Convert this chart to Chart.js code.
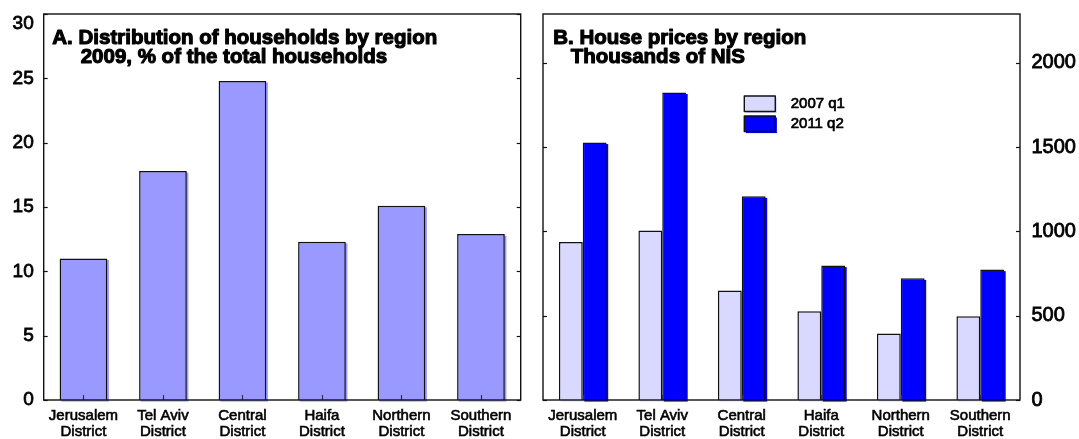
<!DOCTYPE html>
<html>
<head>
<meta charset="utf-8">
<script src="https://cdn.jsdelivr.net/npm/chart.js@4.4.1/dist/chart.umd.min.js"></script>
<style>
  html, body { margin: 0; padding: 0; background: #fff; width: 1079px; height: 439px; overflow: hidden; }
  canvas { position: absolute; top: 0; }
  #chartA { left: 0; }
  #chartB { left: 530px; }
</style>
</head>
<body>
<canvas id="chartA" width="540" height="439"></canvas>
<canvas id="chartB" width="549" height="439"></canvas>
<script>
// Regions (two-line category labels)
const regions = [
  ['Jerusalem', 'District'],
  ['Tel Aviv', 'District'],
  ['Central', 'District'],
  ['Haifa', 'District'],
  ['Northern', 'District'],
  ['Southern', 'District']
];
// Panel A: share of households, 2009 (%)
const householdShare = [11.0, 17.8, 24.8, 12.3, 15.1, 12.9];
// Panel B: average house prices, thousands of NIS
const prices2007q1 = [938, 1005, 649, 526, 395, 497];
const prices2011q2 = [1528, 1825, 1209, 798, 722, 774];
const seriesLabels = ['2007 q1', '2011 q2'];
// Axis ticks
const shareTicks = [0, 5, 10, 15, 20, 25, 30];
const priceTicks = [0, 500, 1000, 1500, 2000];
// Panel titles
const titleA = ['A. Distribution of households by region', '2009, % of the total households'];
const titleB = ['B. House prices by region', 'Thousands of NIS'];

const FONT = '"Liberation Sans", Arial, sans-serif';
const INK = '#111';
const COL_A = '#9999FF';
const COL_LIGHT = '#D9D9FF';
const COL_DARK = '#0000FF';

// Offset "shadow" under every bar, taken from the bar elements themselves
const barShadow = {
  id: 'barShadow',
  beforeDatasetsDraw(chart) {
    const ctx = chart.ctx;
    ctx.save();
    chart.data.datasets.forEach((ds, di) => {
      const meta = chart.getDatasetMeta(di);
      ctx.fillStyle = ds.backgroundColor;
      meta.data.forEach(el => {
        const p = el.getProps(['x', 'y', 'base', 'width'], true);
        ctx.fillRect(p.x - p.width / 2 + 1.6, Math.min(p.y, p.base) + 1.6, p.width, Math.abs(p.base - p.y));
      });
    });
    ctx.restore();
  }
};

// Panel frame, inward tick marks and the in-panel title
const panelFrame = {
  id: 'panelFrame',
  afterDatasetsDraw(chart, args, opts) {
    const { ctx, chartArea: a, scales } = chart;
    ctx.save();
    ctx.strokeStyle = INK;
    ctx.lineWidth = 1.2;
    const seg = (x1, y1, x2, y2) => { ctx.beginPath(); ctx.moveTo(x1, y1); ctx.lineTo(x2, y2); ctx.stroke(); };
    const ys = scales.y;
    ys.ticks.forEach(t => {
      const py = Math.round(ys.getPixelForValue(t.value)) + 0.5;
      seg(a.left, py, a.left + 4, py);
      seg(a.right - 4, py, a.right, py);
    });
    const xs = scales.x;
    ctx.strokeStyle = '#333';
    xs.ticks.forEach((t, i) => {
      const px = Math.round(xs.getPixelForTick(i)) + 0.5;
      seg(px, a.bottom, px, a.bottom - 5);
    });
    ctx.strokeStyle = INK;
    ctx.lineWidth = 1.4;
    ctx.strokeRect(a.left, a.top, a.right - a.left, a.bottom - a.top);

    // title lines
    ctx.fillStyle = '#000';
    ctx.strokeStyle = '#000';
    ctx.lineWidth = 1.1;
    ctx.lineJoin = 'round';
    ctx.font = 'bold 20.5px ' + FONT;
    ctx.textBaseline = 'alphabetic';
    ctx.textAlign = 'left';
    opts.lines.forEach((txt, i) => {
      const x = a.left + opts.indent[i];
      const y = a.top + opts.baseline[i];
      ctx.fillText(txt, x, y);
      ctx.strokeText(txt, x, y);
    });

    // legend drawn inside the panel
    if (opts.legend) {
      const L = opts.legend;
      ctx.font = '15px ' + FONT;
      ctx.textBaseline = 'middle';
      chart.data.datasets.forEach((ds, i) => {
        const bx = a.left + L.x, by = a.top + L.y + i * L.step;
        ctx.fillStyle = ds.backgroundColor;
        ctx.fillRect(bx + 1.6, by + 1.6, L.w, L.h);
        ctx.fillRect(bx, by, L.w, L.h);
        ctx.lineWidth = 1.4;
        ctx.strokeStyle = INK;
        ctx.strokeRect(bx, by, L.w, L.h);
        ctx.fillStyle = '#000';
        ctx.strokeStyle = '#000';
        ctx.lineWidth = 0.7;
        ctx.fillText(ds.label, a.left + L.textX, by + L.h / 2 + 0.5);
        ctx.strokeText(ds.label, a.left + L.textX, by + L.h / 2 + 0.5);
      });
    }
    ctx.restore();
  }
};

function xAxis() {
  return {
    type: 'category',
    offset: true,
    grid: { display: false, drawTicks: false },
    border: { display: false },
    ticks: {
      color: '#000',
      font: { family: FONT, size: 15, lineHeight: 16 / 15 },
      padding: 8,
      maxRotation: 0,
      autoSkip: false,
      textStrokeColor: '#000',
      textStrokeWidth: 0.6
    },
    afterFit(s) {
      s.height = 39;
      s.paddingLeft = 0; s.paddingRight = 0;
    }
  };
}

new Chart(document.getElementById('chartA'), {
  type: 'bar',
  data: {
    labels: regions,
    datasets: [{
      label: 'Households',
      data: householdShare,
      backgroundColor: COL_A,
      borderColor: INK,
      borderWidth: 1.5,
      categoryPercentage: 0.6,
      barPercentage: 1.0,
      clip: 4
    }]
  },
  options: {
    responsive: false,
    animation: false,
    layout: { padding: { top: 14, right: 19.3, left: 0, bottom: 0 } },
    plugins: {
      legend: { display: false },
      tooltip: { enabled: false },
      panelFrame: { lines: titleA, indent: [8.6, 37], baseline: [30.3, 49] }
    },
    scales: {
      x: xAxis(),
      y: {
        position: 'left',
        min: shareTicks[0],
        max: shareTicks[shareTicks.length - 1],
        grid: { display: false, drawTicks: false },
        border: { display: false },
        afterBuildTicks(s) { s.ticks = shareTicks.map(v => ({ value: v })); },
        ticks: {
          color: '#000',
          padding: 10,
          font: { family: FONT, size: 19, lineHeight: 1 },
          textStrokeColor: '#000',
          textStrokeWidth: 0.8,
          // the top label sits just inside the frame
          callback: (v) => v === shareTicks[shareTicks.length - 1] ? ['', String(v)] : String(v)
        },
        afterFit(s) {
          s.width = 43.7;
          s.paddingTop = 0; s.paddingBottom = 0;
        }
      }
    }
  },
  plugins: [barShadow, panelFrame]
});

new Chart(document.getElementById('chartB'), {
  type: 'bar',
  data: {
    labels: regions,
    datasets: [
      {
        label: seriesLabels[0],
        data: prices2007q1,
        backgroundColor: COL_LIGHT,
        borderColor: INK,
        borderWidth: 1.5,
        categoryPercentage: 0.6,
        barPercentage: 1.0,
        clip: 4
      },
      {
        label: seriesLabels[1],
        data: prices2011q2,
        backgroundColor: COL_DARK,
        borderColor: INK,
        borderWidth: 1.5,
        categoryPercentage: 0.6,
        barPercentage: 1.0,
        clip: 4
      }
    ]
  },
  options: {
    responsive: false,
    animation: false,
    layout: { padding: { top: 14, left: 13, right: 0, bottom: 0 } },
    plugins: {
      legend: { display: false },
      tooltip: { enabled: false },
      panelFrame: {
        lines: titleB, indent: [10.3, 27.7], baseline: [30.3, 49],
        legend: { x: 201.3, y: 82, step: 20, w: 31, h: 15.5, textX: 247.7 }
      }
    },
    scales: {
      x: xAxis(),
      y: {
        position: 'right',
        min: 0,
        max: 2290,
        grid: { display: false, drawTicks: false },
        border: { display: false },
        afterBuildTicks(s) { s.ticks = priceTicks.map(v => ({ value: v })); },
        ticks: {
          color: '#000',
          padding: 11.5,
          font: { family: FONT, size: 20 },
          textStrokeColor: '#000',
          textStrokeWidth: 0.8,
          callback: (v) => String(v)
        },
        afterFit(s) {
          s.width = 59;
          s.paddingTop = 0; s.paddingBottom = 0;
        }
      }
    }
  },
  plugins: [barShadow, panelFrame]
});
</script>
</body>
</html>
